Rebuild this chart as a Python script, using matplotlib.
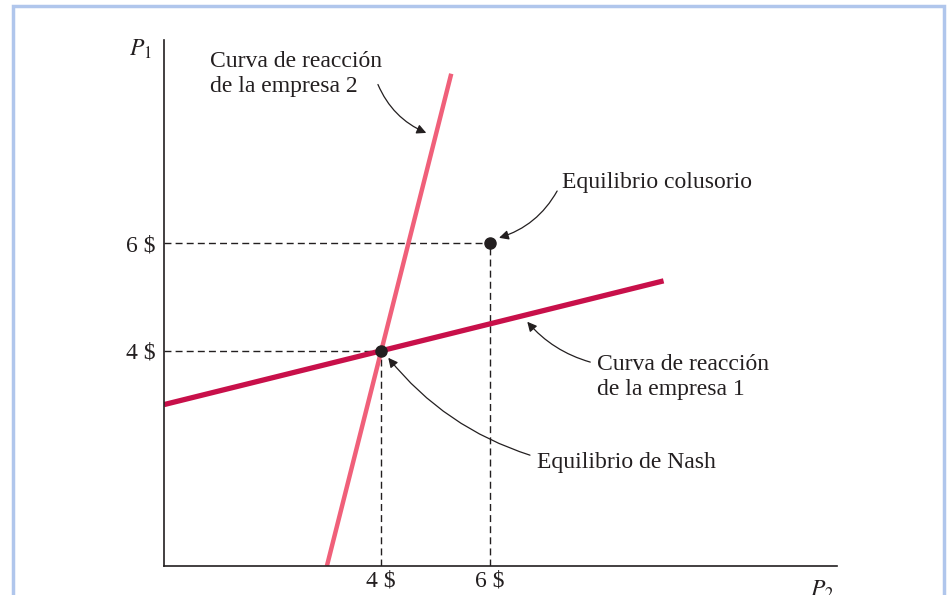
import numpy as np
import matplotlib.pyplot as plt
from matplotlib.patches import Rectangle

plt.rcParams['font.family'] = ['Liberation Serif', 'DejaVu Serif']
plt.rcParams['mathtext.fontset'] = 'stix'

# reaction curves (P2 on x axis, P1 on y axis)
firm1_p2 = [0.0, 9.2]
firm1_p1 = [3.0, 5.3]
firm2_p2 = [3.0, 5.29]
firm2_p1 = [0.0, 9.15]

nash = (4, 4)
collusive = (6, 6)
tick_vals = [4, 6]
tick_labels = ['4 $', '6 $']

col1 = '#c8104a'
col2 = '#f0607a'
dark = '#231f20'
fs = 17

fig = plt.figure(figsize=(9.49, 5.95), dpi=100)
# axes: origin at px (164, 566), top at y=40, right end at x=837
ax = fig.add_axes([164 / 949, (595 - 566) / 595, (837 - 164) / 949, (566 - 40) / 595])
ax.set_xlim(0, (837 - 164) / 54.3)
ax.set_ylim(0, (566 - 40) / 53.8)

for s in ['top', 'right']:
    ax.spines[s].set_visible(False)
for s in ['left', 'bottom']:
    ax.spines[s].set_color(dark)
    ax.spines[s].set_linewidth(1.2)

ax.set_xticks(tick_vals)
ax.set_xticklabels(tick_labels, fontsize=fs, color=dark)
ax.set_yticks(tick_vals)
ax.set_yticklabels(tick_labels, fontsize=fs, color=dark)
ax.tick_params(axis='x', length=0, pad=3)
ax.tick_params(axis='y', length=0, pad=6)

# dashed guides
for px, py in [nash, collusive]:
    ax.plot([0, px], [py, py], ls=(0, (5, 3)), color=dark, lw=1, zorder=1)
    ax.plot([px, px], [0, py], ls=(0, (5, 3)), color=dark, lw=1, zorder=1)

ax.plot(firm1_p2, firm1_p1, color=col1, lw=3.8, solid_capstyle='butt', zorder=2)
ax.plot(firm2_p2, firm2_p1, color=col2, lw=3.2, solid_capstyle='butt', zorder=2)

ax.plot(*nash, 'o', color=dark, ms=8, zorder=4)
ax.plot(*collusive, 'o', color=dark, ms=8, zorder=4)

arrow = dict(arrowstyle='-|>', color=dark, lw=0.9, mutation_scale=14, shrinkA=0, shrinkB=0)

ax.text(0.85, 9.57, 'Curva de reacción\nde la empresa 2', fontsize=fs, color=dark,
        va='top', ha='left', linespacing=1.25)
ax.annotate('', xy=(4.83, 8.05), xytext=(3.94, 8.95),
            arrowprops=dict(arrow, connectionstyle='arc3,rad=0.2'))

ax.text(7.33, 7.12, 'Equilibrio colusorio', fontsize=fs, color=dark, va='center', ha='left')
ax.annotate('', xy=(6.17, 6.10), xytext=(7.24, 6.97),
            arrowprops=dict(arrow, connectionstyle='arc3,rad=-0.2'))

ax.text(7.97, 3.94, 'Curva de reacción\nde la empresa 1', fontsize=fs, color=dark,
        va='top', ha='left', linespacing=1.25)
ax.annotate('', xy=(6.69, 4.54), xytext=(7.85, 3.79),
            arrowprops=dict(arrow, connectionstyle='arc3,rad=-0.15'))

ax.text(6.87, 1.93, 'Equilibrio de Nash', fontsize=fs, color=dark, va='center', ha='left')
ax.annotate('', xy=(4.13, 3.87), xytext=(6.74, 2.06),
            arrowprops=dict(arrow, connectionstyle='arc3,rad=-0.15'))

fig.text(140 / 949, 1 - 49 / 595, '$P_1$', fontsize=17, color=dark, ha='center', va='center')
fig.text(822 / 949, 1 - 590 / 595, '$P_2$', fontsize=17, color=dark, ha='center', va='center')

# light blue frame around the figure
fig.patches.append(Rectangle((13 / 949, -0.05), (944 - 13) / 949, 1.05 - 6 / 595,
                             transform=fig.transFigure, fill=False,
                             edgecolor='#b0c6ec', lw=2.5))

fig.savefig('out.png', dpi=100)
